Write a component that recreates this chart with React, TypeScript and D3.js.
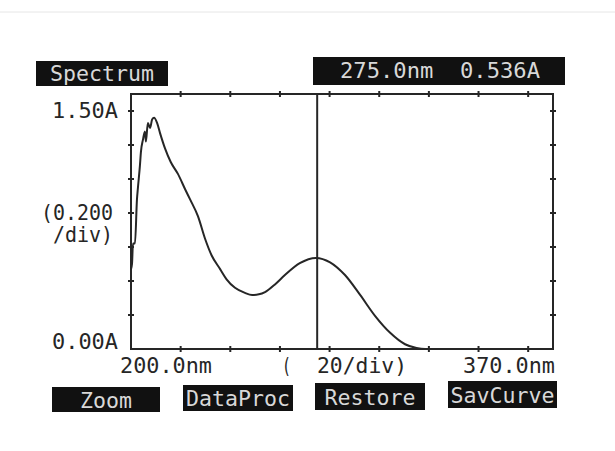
import React from "react";
import * as d3 from "d3";

// spectrum (nm, absorbance)
const wavelengths = [
  200, 200.4, 200.8, 201.6, 202.4, 202.8, 203.6, 204, 204.8, 205.6, 206, 206.8, 207.7,
  208.5, 209.3, 210.5, 211.7, 213.7, 216, 218.9, 221.8, 223.8, 227, 229.8, 232.5, 235.9,
  238.5, 241.9, 245.9, 248.8, 251.5, 254, 258, 262, 268, 274.5, 280.2, 286.2, 292.3,
  298.3, 304.4, 310.4, 315, 318.5, 325, 370,
];
const absorbance = [
  0.47, 0.5, 0.62, 0.62, 0.88, 0.95, 1.08, 1.16, 1.23, 1.28, 1.22, 1.33, 1.3,
  1.35, 1.36, 1.33, 1.27, 1.18, 1.1, 1.03, 0.94, 0.88, 0.78, 0.65, 0.55, 0.47,
  0.41, 0.36, 0.33, 0.318, 0.322, 0.335, 0.38, 0.435, 0.505, 0.536, 0.51, 0.435, 0.318,
  0.195, 0.095, 0.028, 0.006, 0, 0, 0,
];

const xTicks = [220, 240, 260, 280, 300, 320, 340, 360];
const yTicks = [0.2, 0.4, 0.6, 0.8, 1.0, 1.2, 1.4];
const cursorNm = 275.0;
const cursorAbs = 0.536;
const buttons = ["Zoom", "DataProc", "Restore", "SavCurve"];

const W = 615;
const H = 451;
const left = 131;
const right = 553;
const top = 94;
const bottom = 349;

const font = "'DejaVu Sans Mono', 'Liberation Mono', monospace";
const ink = "#262626";

export default function App() {
  const x = d3.scaleLinear().domain([200, 370]).range([left, right]);
  const y = d3.scaleLinear().domain([0, 1.5]).range([bottom, top]);

  const pts: [number, number][] = wavelengths.map((w, i) => [w, absorbance[i]]);
  const line = d3
    .line<[number, number]>()
    .x((d) => x(d[0]))
    .y((d) => y(d[1]))
    .curve(d3.curveMonotoneX);

  const btnBoxes = [
    { x: 52, y: 387, w: 108, h: 25 },
    { x: 183, y: 385, w: 110, h: 26 },
    { x: 315, y: 383, w: 110, h: 27 },
    { x: 448, y: 381, w: 109, h: 27 },
  ];

  const txt = (s: string, tx: number, ty: number, anchor = "start", len?: number, fill = ink) => (
    <text
      x={tx}
      y={ty}
      textAnchor={anchor}
      fontFamily={font}
      fontSize={21}
      fill={fill}
      dominantBaseline="central"
      textLength={len}
      lengthAdjust={len ? "spacingAndGlyphs" : undefined}
      style={{ whiteSpace: "pre" }}
    >
      {s}
    </text>
  );

  return (
    <div style={{ position: "absolute", left: 0, top: 0 }}>
      <svg width={W} height={H} style={{ display: "block", background: "#fff" }}>
        <line x1={0} x2={W} y1={12} y2={12} stroke="#e6e6e6" strokeWidth={1} />

        {/* header boxes */}
        <rect x={36} y={61} width={132} height={25} fill="#111" />
        {txt("Spectrum", 102, 74, "middle", 104, "#d8d8d8")}
        <rect x={313} y={57} width={252} height={28} fill="#111" />
        {txt(`${cursorNm.toFixed(1)}nm\u00a0\u00a0${cursorAbs.toFixed(3)}A`, 440, 71, "middle", 200, "#d8d8d8")}

        {/* frame */}
        <rect x={left} y={top} width={right - left} height={bottom - top} fill="none" stroke={ink} strokeWidth={2} />

        {/* ticks */}
        {xTicks.map((t) => (
          <g key={"x" + t}>
            <line x1={x(t)} x2={x(t)} y1={bottom - 3} y2={bottom + 3} stroke={ink} strokeWidth={2} />
            <line x1={x(t)} x2={x(t)} y1={top - 3} y2={top + 3} stroke={ink} strokeWidth={2} />
          </g>
        ))}
        {yTicks.map((t) => (
          <g key={"y" + t}>
            <line x1={left - 3} x2={left + 3} y1={y(t)} y2={y(t)} stroke={ink} strokeWidth={2} />
            <line x1={right - 3} x2={right + 3} y1={y(t)} y2={y(t)} stroke={ink} strokeWidth={2} />
          </g>
        ))}

        {/* cursor */}
        <line x1={x(cursorNm)} x2={x(cursorNm)} y1={top} y2={bottom} stroke={ink} strokeWidth={2} />

        {/* spectrum */}
        <path d={line(pts) ?? ""} fill="none" stroke={ink} strokeWidth={2} strokeLinejoin="round" />

        {/* axis labels */}
        {txt("1.50A", 118, 111, "end", 66)}
        {txt("(0.200", 113, 213, "end", 72)}
        {txt("/div)", 113, 235, "end", 60)}
        {txt("0.00A", 118, 342, "end", 66)}
        {txt("200.0nm", 120, 366, "start", 92)}
        {txt("(", 282, 366, "start", 9)}
        {txt("20/div)", 317, 366, "start", 90)}
        {txt("370.0nm", 555, 366, "end", 92)}

        {/* soft keys */}
        {buttons.map((b, i) => {
          const bx = btnBoxes[i];
          return (
            <g key={b}>
              <rect x={bx.x} y={bx.y} width={bx.w} height={bx.h} fill="#111" />
              {txt(b, bx.x + bx.w / 2, bx.y + bx.h / 2 + 1, "middle", b.length * 13, "#d8d8d8")}
            </g>
          );
        })}
      </svg>
    </div>
  );
}
